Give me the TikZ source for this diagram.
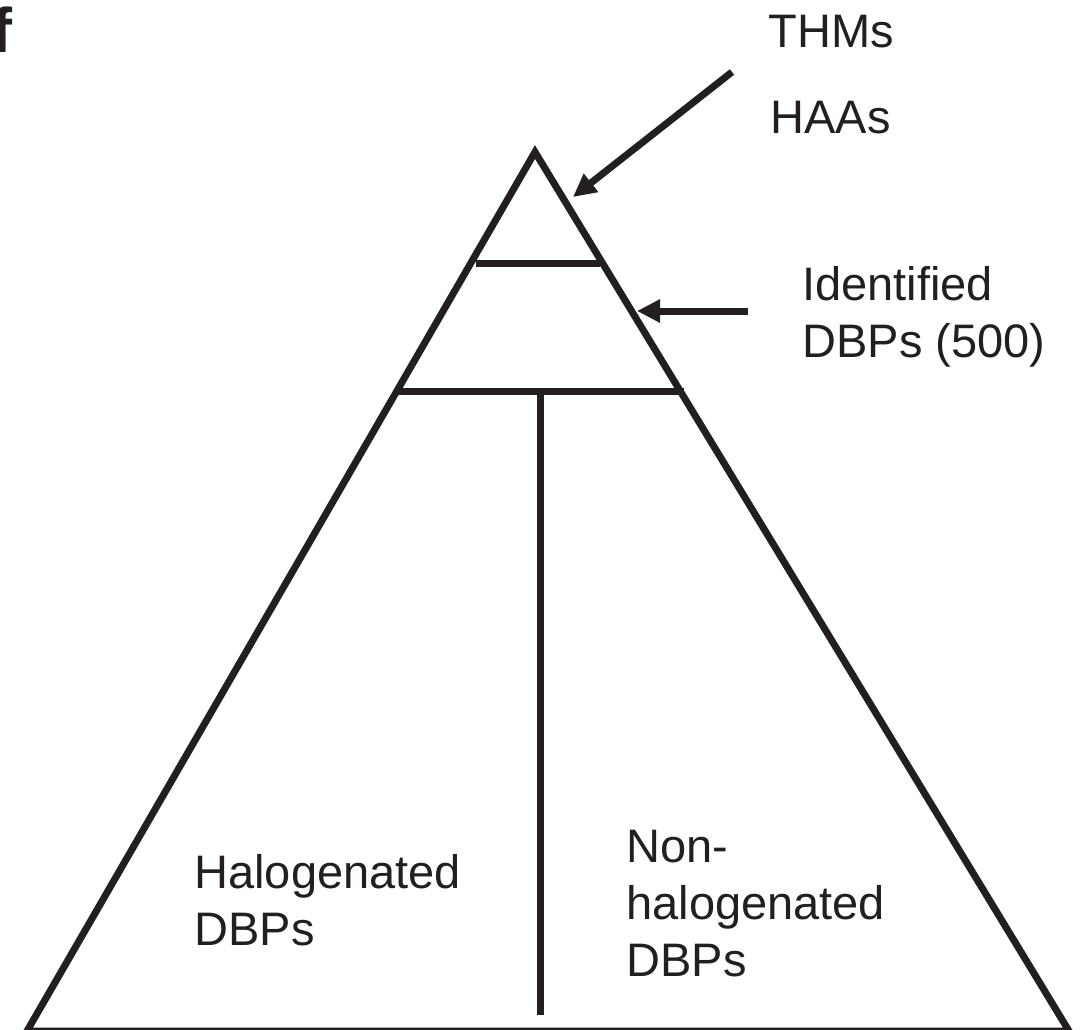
\documentclass[tikz,border=0pt]{standalone}
\usepackage{fontspec}
\setmainfont{Liberation Sans}
\usepackage{tikz}
\usetikzlibrary{arrows.meta, positioning}
\usepackage{xcolor}
\definecolor{ink}{HTML}{231F20}

\begin{document}
\begin{tikzpicture}[
    x=0.5pt, y=-0.5pt,
    >={Triangle[length=11.5pt, width=11pt]},
    every node/.style={font=\fontsize{23.5}{28.5}\selectfont, text=ink, inner sep=0pt},
    edge/.style={draw=ink, line width=3.5pt},
    tag/.style={anchor=base west, align=left}
  ]

  \useasboundingbox (0,0) rectangle (1084,1030);

  % pyramid corners
  \coordinate (apex) at (535,152);
  \coordinate (bl) at (27,1031);
  \coordinate (br) at (1069,1031);

  \draw[edge, line join=miter] (bl) -- (apex) -- (br) -- cycle;

  % tiers
  \coordinate (tierAl) at (476,263);
  \coordinate (tierAr) at (600,263);
  \coordinate (tierBl) at (397,391);
  \coordinate (tierBr) at (684,391);
  \coordinate (stem) at (540,391);
  \coordinate (stemend) at (540,1015);

  \draw[edge] (tierAl) -- (tierAr);
  \draw[edge] (tierBl) -- (tierBr);
  \draw[edge] (stem) -- (stemend);

  \node[tag, font=\fontsize{31.5}{36}\selectfont\bfseries] (panel) at (-9,52) {f};

  % labels, placed by the baseline of their last line
  \node[tag] (thm) at (768,47) {THMs};
  \node[tag] (haa) at (770,133) {HAAs};
  \node[tag] (ident) at (802,357) {Identified\\DBPs (500)};
  \node[tag] (halo) at (194,945) {Halogenated\\DBPs};
  \node[tag] (nonhalo) at (626,976) {Non-\\halogenated\\DBPs};

  % arrows
  \coordinate (topfrom) at (732,72);
  \coordinate (topto) at (573,197);
  \coordinate (midfrom) at (748,311);
  \coordinate (midto) at (637,311);

  \draw[edge, ->] (topfrom) -- (topto);
  \draw[edge, ->] (midfrom) -- (midto);

\end{tikzpicture}
\end{document}
